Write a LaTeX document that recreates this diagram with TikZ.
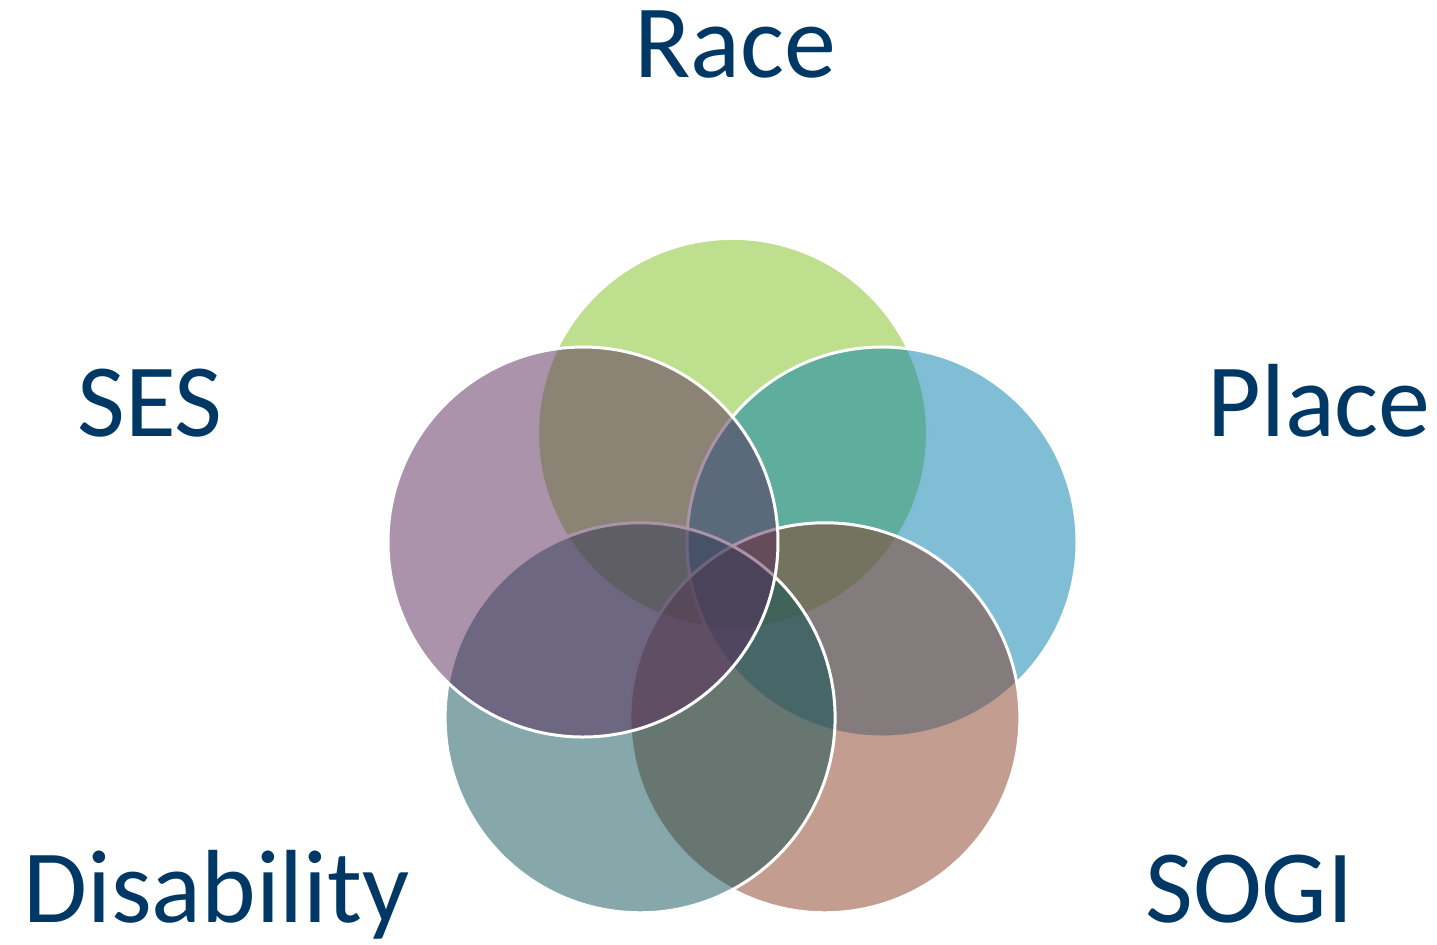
\documentclass[tikz,border=0pt]{standalone}
\usepackage{fontspec}
\setmainfont{Carlito}
\usetikzlibrary{calc}
\definecolor{labelblue}{RGB}{0,56,101}
\definecolor{racegreen}{RGB}{125,193,29}
\definecolor{placeblue}{RGB}{1,125,173}
\definecolor{sogibrown}{RGB}{137,59,35}
\definecolor{disteal}{RGB}{13,81,85}
\definecolor{sespurple}{RGB}{89,39,89}
\begin{document}
\begin{tikzpicture}[x=0.5pt,y=0.5pt,
  ring/.style={fill opacity=0.5,draw=white,line width=1.5pt},
  every node/.style={text=labelblue,font=\fontsize{52}{60}\selectfont,anchor=base,inner sep=0pt}]
  \useasboundingbox (0,0) rectangle (1437,944);
  \coordinate (mid) at (732.5,353.4);
  % circles, drawn in this order
  \foreach \name/\ang/\col in {race/90/racegreen,place/18/placeblue,sogi/-54/sogibrown,dis/-126/disteal,ses/162/sespurple}{
    \coordinate (\name) at ($(mid)+(\ang:157.2)$);
    \path[ring,fill=\col] (\name) circle[radius=195];
  }
  % labels
  \path (735,866) node (racelbl) {Race}
  (150,507) node (seslbl) {SES} (1319,507) node (placelbl) {Place}
  (216.5,22) node (dislbl) {Disability} (1249.5,22) node (sogilbl) {SOGI};
\end{tikzpicture}
\end{document}
